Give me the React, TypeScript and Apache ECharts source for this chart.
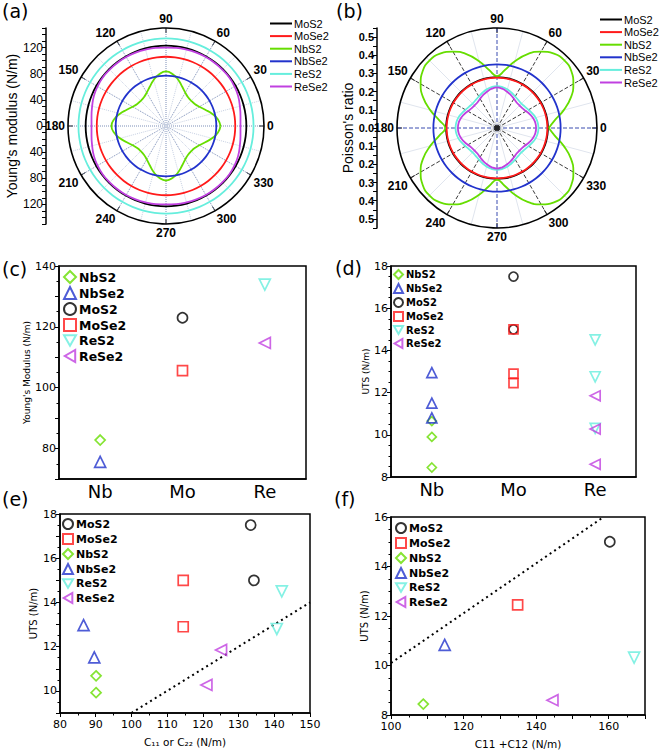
import React, { useEffect, useRef } from 'react';
import * as echarts from 'echarts';

// ---------- shared ----------
const MATERIALS = ['MoS2', 'MoSe2', 'NbS2', 'NbSe2', 'ReS2', 'ReSe2'];
const COLORS: Record<string, string> = {
  MoS2: '#000000',
  MoSe2: '#ff1a1a',
  NbS2: '#66dd00',
  NbSe2: '#2233cc',
  ReS2: '#66eedd',
  ReSe2: '#c040e0',
};
const SYMBOLS: Record<string, string> = {
  MoS2: 'circle', MoSe2: 'rect', NbS2: 'diamond', NbSe2: 'triangle', ReS2: 'triangle', ReSe2: 'triangle',
};
const ROTATE: Record<string, number> = { MoS2: 0, MoSe2: 0, NbS2: 0, NbSe2: 0, ReS2: 180, ReSe2: 90 };
const LEGEND_ICON: Record<string, string> = {
  ReS2: 'path://M0,0L10,0L5,8.66Z',
  ReSe2: 'path://M8.66,0L8.66,10L0,5Z',
};

// ---------- (a) Young's modulus, polar (readings for one quadrant, 4-fold symmetric) ----------
const QUAD_ANGLES = [0, 7.5, 15, 22.5, 30, 37.5, 45, 52.5, 60, 67.5, 75, 82.5, 90];
const YM_MoS2 = [123, 123, 123, 123, 123, 123, 123, 123, 123, 123, 123, 123, 123];
const YM_MoSe2 = [106, 106, 106, 106, 106, 106, 106, 106, 106, 106, 106, 106, 106];
const YM_NbS2 = [83.5, 80, 73, 65, 59, 55.5, 54.5, 55.5, 59, 65, 73, 80, 83.5];
const YM_NbSe2 = [77, 77, 77, 77, 77, 77, 77, 77, 77, 77, 77, 77, 77];
const YM_ReS2 = [134, 134, 134, 134, 134, 134, 134, 134, 134, 134, 134, 134, 134];
const YM_ReSe2 = [114, 115, 117, 119.5, 121, 122, 122, 122, 122, 121.5, 121, 120.5, 120];

// ---------- (b) Poisson's ratio, polar ----------
const NU_MoS2 = [0.28, 0.28, 0.28, 0.28, 0.28, 0.28, 0.28, 0.28, 0.28, 0.28, 0.28, 0.28, 0.28];
const NU_MoSe2 = [0.277, 0.277, 0.277, 0.277, 0.277, 0.277, 0.277, 0.277, 0.277, 0.277, 0.277, 0.277, 0.277];
const NU_NbS2 = [0.285, 0.32, 0.38, 0.44, 0.485, 0.515, 0.525, 0.515, 0.485, 0.44, 0.38, 0.32, 0.285];
const NU_NbSe2 = [0.35, 0.35, 0.35, 0.35, 0.35, 0.35, 0.35, 0.35, 0.35, 0.35, 0.35, 0.35, 0.35];
const NU_ReS2 = [0.228, 0.226, 0.22, 0.21, 0.2, 0.193, 0.19, 0.193, 0.2, 0.21, 0.22, 0.227, 0.23];
const NU_ReSe2 = [0.215, 0.213, 0.206, 0.196, 0.185, 0.177, 0.175, 0.177, 0.186, 0.197, 0.208, 0.218, 0.223];

// ---------- (c) Young's modulus by metal ----------
const ELEMENTS = ['Nb', 'Mo', 'Re'];
const C_MATERIALS = ['NbS2', 'NbSe2', 'MoS2', 'MoSe2', 'ReS2', 'ReSe2'];
const C_ELEMENT = ['Nb', 'Nb', 'Mo', 'Mo', 'Re', 'Re'];
const C_YOUNG = [82.8, 75.6, 123.0, 105.6, 133.9, 114.7];

// ---------- (d) UTS by metal ----------
const D_UTS_NbS2 = [8.45, 9.9, 10.65];
const D_UTS_NbSe2 = [10.8, 11.5, 12.95];
const D_UTS_MoS2 = [17.5, 15.0];
const D_UTS_MoSe2 = [15.0, 12.9, 12.45];
const D_UTS_ReS2 = [14.5, 12.75, 10.3];
const D_UTS_ReSe2 = [11.85, 10.27, 8.6];

// ---------- (e) UTS vs C11 or C22 ----------
const E_MoS2 = [[133.4, 17.5], [134.3, 15.0]];
const E_MoSe2 = [[114.5, 15.0], [114.5, 12.9]];
const E_NbS2 = [[90.1, 10.68], [90.1, 9.92]];
const E_NbSe2 = [[86.6, 12.97], [89.6, 11.52]];
const E_ReS2 = [[142.1, 14.5], [140.7, 12.8]];
const E_ReSe2 = [[125.1, 11.85], [121.0, 10.27]];
const E_TREND = [[100, 9], [150, 14]];

// ---------- (f) UTS vs C11 + C12 ----------
const F_MoS2 = [[160.3, 15.0]];
const F_MoSe2 = [[134.9, 12.45]];
const F_NbS2 = [[108.9, 8.44]];
const F_NbSe2 = [[114.8, 10.83]];
const F_ReS2 = [[167.0, 10.32]];
const F_ReSe2 = [[144.5, 8.6]];
const F_TREND = [[100, 10.1], [158.6, 16]];

const FONT_A = 'Liberation Sans';
const FONT_C = 'DejaVu Sans';

function fullCircle(quad: number[]) {
  const out: number[][] = [];
  for (let i = 0; i <= 48; i++) {
    const theta = i * 7.5;
    let phi = theta % 180;
    if (phi > 90) phi = 180 - phi;
    const idx = QUAD_ANGLES.indexOf(phi);
    out.push([quad[idx], theta]);
  }
  return out;
}

const stripName = (n: string) => n.split(':')[1];

function buildOption(): any {
  const ymQuads: Record<string, number[]> = {
    MoS2: YM_MoS2, MoSe2: YM_MoSe2, NbS2: YM_NbS2, NbSe2: YM_NbSe2, ReS2: YM_ReS2, ReSe2: YM_ReSe2,
  };
  const nuQuads: Record<string, number[]> = {
    MoS2: NU_MoS2, MoSe2: NU_MoSe2, NbS2: NU_NbS2, NbSe2: NU_NbSe2, ReS2: NU_ReS2, ReSe2: NU_ReSe2,
  };
  const dData: Record<string, number[]> = {
    NbS2: D_UTS_NbS2, NbSe2: D_UTS_NbSe2, MoS2: D_UTS_MoS2, MoSe2: D_UTS_MoSe2, ReS2: D_UTS_ReS2, ReSe2: D_UTS_ReSe2,
  };
  const dElem: Record<string, string> = { NbS2: 'Nb', NbSe2: 'Nb', MoS2: 'Mo', MoSe2: 'Mo', ReS2: 'Re', ReSe2: 'Re' };
  const eData: Record<string, number[][]> = {
    MoS2: E_MoS2, MoSe2: E_MoSe2, NbS2: E_NbS2, NbSe2: E_NbSe2, ReS2: E_ReS2, ReSe2: E_ReSe2,
  };
  const fData: Record<string, number[][]> = {
    MoS2: F_MoS2, MoSe2: F_MoSe2, NbS2: F_NbS2, NbSe2: F_NbSe2, ReS2: F_ReS2, ReSe2: F_ReSe2,
  };

  const symSize = (m: string, base: number) => (SYMBOLS[m] === 'triangle' ? base + 1 : base);

  const scatter = (prefix: string, m: string, data: any[], idx: number, base: number) => ({
    type: 'scatter',
    name: prefix + ':' + m,
    xAxisIndex: idx,
    yAxisIndex: idx,
    data,
    symbol: SYMBOLS[m],
    symbolRotate: ROTATE[m],
    symbolSize: symSize(m, base),
    itemStyle: { color: 'rgba(255,255,255,0)', borderColor: COLORS[m], borderWidth: 1.7 },
    z: 3,
  });

  const series: any[] = [];
  MATERIALS.forEach((m) => {
    series.push({
      type: 'line', coordinateSystem: 'polar', polarIndex: 0, name: 'a:' + m,
      data: fullCircle(ymQuads[m]), symbol: 'none', smooth: true, color: COLORS[m],
      lineStyle: { color: COLORS[m], width: 1.8 }, z: 3,
    });
  });
  MATERIALS.forEach((m) => {
    series.push({
      type: 'line', coordinateSystem: 'polar', polarIndex: 1, name: 'b:' + m,
      data: fullCircle(nuQuads[m]), symbol: 'none', smooth: true, color: COLORS[m],
      lineStyle: { color: COLORS[m], width: 1.8 }, z: 3,
    });
  });
  series.push({
    type: 'scatter', coordinateSystem: 'polar', polarIndex: 1, name: 'centre', data: [[0, 0]],
    symbol: 'circle', symbolSize: 6, itemStyle: { color: '#000', shadowBlur: 5, shadowColor: 'rgba(0,0,0,0.6)' }, z: 4,
  });
  series.push({ type: 'scatter', name: 'stripA', xAxisIndex: 0, yAxisIndex: 0, data: [] });
  series.push({ type: 'scatter', name: 'stripB', xAxisIndex: 1, yAxisIndex: 1, data: [] });
  C_MATERIALS.forEach((m, i) => {
    series.push(scatter('c', m, [[C_ELEMENT[i], C_YOUNG[i]]], 2, 10));
  });
  C_MATERIALS.forEach((m) => {
    series.push(scatter('d', m, dData[m].map((v) => [dElem[m], v]), 3, 9));
  });
  series.push({
    type: 'line', name: 'trendE', xAxisIndex: 4, yAxisIndex: 4, data: E_TREND, symbol: 'none',
    lineStyle: { color: '#000', width: 2, type: [2, 3.5] }, z: 2,
  });
  MATERIALS.forEach((m) => series.push(scatter('e', m, eData[m], 4, 10)));
  series.push({
    type: 'line', name: 'trendF', xAxisIndex: 5, yAxisIndex: 5, data: F_TREND, symbol: 'none',
    lineStyle: { color: '#000', width: 2, type: [2, 3.5] }, z: 2,
  });
  MATERIALS.forEach((m) => series.push(scatter('f', m, fData[m], 5, 10)));

  const angleAxisBase = (idx: number, splitColor: any, splitType: any, minorColor: string, minorType: any) => ({
    polarIndex: idx,
    type: 'value',
    min: 0,
    max: 360,
    interval: 30,
    startAngle: 0,
    clockwise: false,
    axisLine: { show: true, lineStyle: { color: '#000', width: 1.6 } },
    axisTick: { show: true, inside: true, length: 5, lineStyle: { color: '#000', width: 1 } },
    minorTick: { show: false, splitNumber: 2 },
    axisLabel: {
      margin: 3, fontFamily: FONT_A, fontWeight: 'bold', fontSize: 12, color: '#000',
      formatter: (v: number) => (v === 360 ? '' : String(v)),
    },
    splitLine: { show: true, lineStyle: { color: splitColor, type: splitType, width: 1 } },
    minorSplitLine: { show: true, lineStyle: { color: minorColor, type: minorType, width: 1 } },
  });

  const stripY = (idx: number, max: number, interval: number, fmt: (v: number) => string, name: string, nameGap: number, bold: boolean, size: number) => ({
    gridIndex: idx,
    type: 'value',
    min: -max,
    max,
    interval,
    position: 'left',
    axisLine: { show: true, onZero: false, lineStyle: { color: '#000', width: 1.5 } },
    axisTick: { show: true, length: 4, lineStyle: { color: '#000' } },
    axisLabel: { formatter: fmt, fontFamily: FONT_A, fontSize: size, fontWeight: bold ? 'bold' : 'normal', color: '#000', margin: 3 },
    splitLine: { show: false },
    name,
    nameLocation: 'middle',
    nameGap,
    nameTextStyle: { fontFamily: FONT_A, fontSize: 14, color: '#000' },
  });

  const boxGrid = (left: number, top: number, width: number, height: number) => ({
    left, top, width, height, show: true, borderColor: '#000', borderWidth: 1.5, backgroundColor: 'rgba(0,0,0,0)',
  });

  const valAxisC = (idx: number, min: number, max: number, interval: number, fmt: any, minorSplit: number, name: string, nameGap: number, nameSize: number, labelMargin: number) => ({
    gridIndex: idx,
    type: 'value',
    min,
    max,
    interval,
    axisLine: { show: true, onZero: false, lineStyle: { color: '#000', width: 1.5 } },
    axisTick: { show: true, length: 4, lineStyle: { color: '#000', width: 1 } },
    minorTick: { show: true, splitNumber: minorSplit, length: 2.5, lineStyle: { color: '#000', width: 1 } },
    axisLabel: { formatter: fmt, fontFamily: FONT_C, fontSize: 11, color: '#000', margin: labelMargin },
    splitLine: { show: false },
    name,
    nameLocation: 'middle',
    nameGap,
    nameTextStyle: { fontFamily: FONT_C, fontSize: nameSize, color: '#000' },
  });

  const catAxis = (idx: number) => ({
    gridIndex: idx,
    type: 'category',
    data: ELEMENTS,
    axisTick: { show: false },
    axisLine: { show: true, onZero: false, lineStyle: { color: '#000', width: 1.5 } },
    axisLabel: { fontFamily: FONT_C, fontSize: 18, color: '#000', margin: 3 },
    splitLine: { show: false },
  });

  const legendMarkers = (prefix: string, order: string[], left: number, top: number, size: number, font: number, gap: number) => ({
    left, top, orient: 'vertical', padding: 0, itemGap: gap, itemWidth: size, itemHeight: size,
    selectedMode: false, formatter: stripName,
    textStyle: { fontFamily: FONT_C, fontSize: font, fontWeight: 'bold', color: '#000', padding: [0, 0, 0, -2] },
    data: order.map((m) => (LEGEND_ICON[m] ? { name: prefix + ':' + m, icon: LEGEND_ICON[m] } : { name: prefix + ':' + m })),
  });

  const legendLines = (prefix: string, left: number, top: number) => ({
    left, top, orient: 'vertical', padding: 0, itemGap: 1.6, itemWidth: 22, itemHeight: 2, icon: 'rect',
    selectedMode: false, formatter: stripName,
    textStyle: { fontFamily: FONT_A, fontSize: 11, color: '#000', padding: [0, 0, 0, -3] },
    data: MATERIALS.map((m) => prefix + ':' + m),
  });

  const panelLabel = (text: string, x: number, y: number) => ({
    type: 'text', x, y,
    style: { text, fontFamily: FONT_C, fontSize: 19, fill: '#000', verticalAlign: 'middle', align: 'left' },
  });

  return {
    animation: false,
    backgroundColor: '#fff',
    polar: [
      { center: [166, 126], radius: 98 },
      { center: [497, 128], radius: 100 },
    ],
    angleAxis: [
      angleAxisBase(0, '#7d8fb8', 'dotted', '#c9d2e4', 'dotted'),
      angleAxisBase(1, ['#3a4db0', '#3a3a3a', '#3a3a3a'], 'dashed', '#e0e5ee', 'solid'),
    ],
    radiusAxis: [
      { polarIndex: 0, type: 'value', min: 0, max: 150, show: false },
      { polarIndex: 1, type: 'value', min: 0, max: 0.55, show: false },
    ],
    grid: [
      { left: 46, top: 28, width: 1, height: 196, show: false },
      { left: 377, top: 28, width: 1, height: 200, show: false },
      boxGrid(59, 266, 247, 213),
      boxGrid(391, 266, 245, 211),
      boxGrid(60, 514, 250, 199),
      boxGrid(391, 517, 254, 198),
    ],
    xAxis: [
      { gridIndex: 0, type: 'value', min: 0, max: 1, show: false },
      { gridIndex: 1, type: 'value', min: 0, max: 1, show: false },
      catAxis(2),
      catAxis(3),
      valAxisC(4, 80, 150, 10, (v: number) => String(v), 2, 'C\u2081\u2081 or C\u2082\u2082 (N/m)', 23, 10.5, 6),
      valAxisC(5, 100, 170, 10, (v: number) => (v % 20 === 0 ? String(v) : ''), 2, 'C11 +C12 (N/m)', 23, 10.5, 6),
    ],
    yAxis: [
      stripY(0, 150, 10, (v: number) => (Math.round(v) % 40 === 0 ? String(Math.abs(Math.round(v))) : ''), "Young's modulus (N/m)", 24, false, 12),
      stripY(1, 0.55, 0.05, (v: number) => {
        const k = Math.round(v * 100);
        return k % 10 === 0 ? Math.abs(k / 100).toFixed(1) : '';
      }, "Poisson's ratio", 17, true, 11),
      valAxisC(2, 70, 140, 10, (v: number) => (v % 20 === 0 ? String(v) : ''), 2, "Young's Modulus (N/m)", 26, 9, 3),
      valAxisC(3, 8, 18, 2, (v: number) => String(v), 4, 'UTS (N/m)', 20, 9, 3),
      valAxisC(4, 9, 18, 1, (v: number) => (v % 2 === 0 ? String(v) : ''), 2, 'UTS (N/m)', 22, 10, 3),
      valAxisC(5, 8, 16, 2, (v: number) => String(v), 4, 'UTS (N/m)', 22, 10, 3),
    ],
    legend: [
      legendLines('a', 270, 18),
      legendLines('b', 600, 14),
      legendMarkers('c', C_MATERIALS, 63, 270, 12, 12.5, 2),
      legendMarkers('d', C_MATERIALS, 393, 269, 9, 10, 3),
      legendMarkers('e', MATERIALS, 62, 518, 10, 11, 3),
      legendMarkers('f', MATERIALS, 395, 522, 10, 11, 3),
    ],
    graphic: [
      panelLabel('(a)', 2, 11),
      panelLabel('(b)', 336, 11),
      panelLabel('(c)', 2, 269),
      panelLabel('(d)', 335, 268),
      panelLabel('(e)', 2, 499),
      panelLabel('(f)', 334, 499),
    ],
    series,
  };
}

export default function App() {
  const ref = useRef<HTMLDivElement>(null);
  useEffect(() => {
    if (!ref.current) return;
    const chart = echarts.init(ref.current, undefined, { renderer: 'svg' });
    chart.setOption(buildOption());
    return () => chart.dispose();
  }, []);
  return (
    <div
      ref={ref}
      style={{ position: 'absolute', left: 0, top: 0, width: 660, height: 751, background: '#fff' }}
    />
  );
}
